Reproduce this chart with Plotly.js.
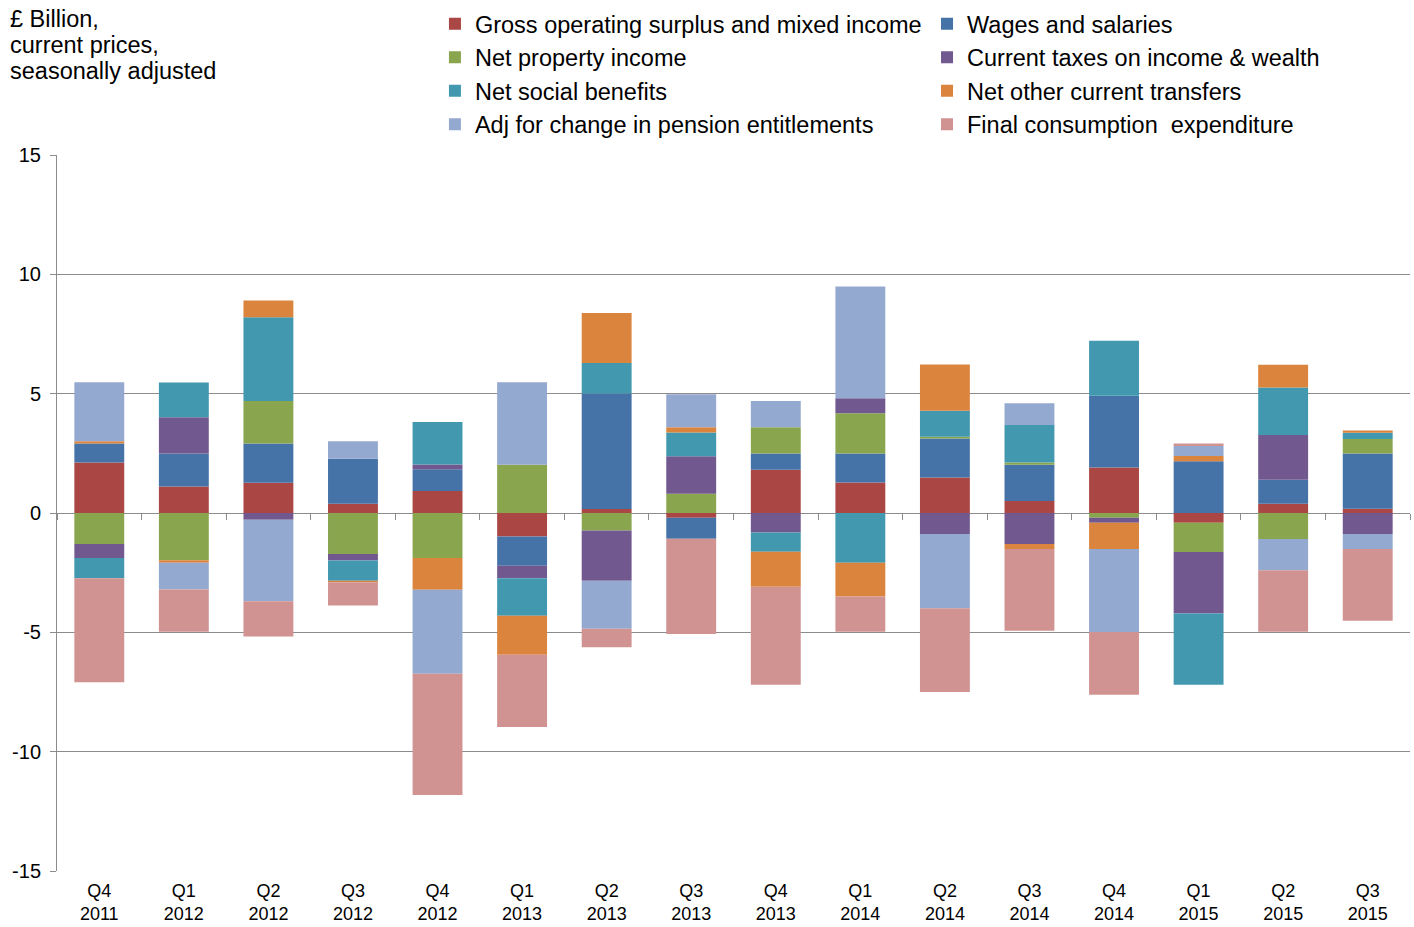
<!DOCTYPE html>
<html>
<head>
<meta charset="utf-8">
<script src="https://cdn.plot.ly/plotly-3.0.1.min.js"></script>
<style>html,body{margin:0;padding:0;background:#fff;}#chart{width:1414px;height:927px;}</style>
</head>
<body>
<div id="chart"></div>
<script>
const quarters = ["Q4<br>2011","Q1<br>2012","Q2<br>2012","Q3<br>2012","Q4<br>2012","Q1<br>2013","Q2<br>2013","Q3<br>2013","Q4<br>2013","Q1<br>2014","Q2<br>2014","Q3<br>2014","Q4<br>2014","Q1<br>2015","Q2<br>2015","Q3<br>2015"];

const grossOperatingSurplus = [2.12, 1.11, 1.27, 0.39, 0.92, -0.98, 0.17, -0.20, 1.81, 1.28, 1.49, 0.50, 1.91, -0.41, 0.39, 0.18];
const wagesSalaries        = [0.79, 1.38, 1.64, 1.88, 0.91, -1.23, 4.84, -0.88, 0.68, 1.21, 1.63, 1.52, 3.00, 2.17, 1.00, 2.31];
const netPropertyIncome    = [-1.30, -1.98, 1.78, -1.72, -1.89, 2.02, -0.73, 0.81, 1.10, 1.69, 0.07, 0.10, -0.20, -1.22, -1.09, 0.61];
const currentTaxes         = [-0.59, 1.52, -0.28, -0.27, 0.20, -0.52, -2.11, 1.57, -0.82, 0.63, -0.88, -1.30, -0.21, -2.58, 1.88, -0.88];
const netSocialBenefits    = [-0.84, 1.46, 3.51, -0.85, 1.78, -1.58, 1.27, 0.99, -0.80, -2.08, 1.09, 1.57, 2.31, -2.99, 1.99, 0.26];
const netOtherTransfers    = [0.10, -0.10, 0.70, -0.06, -1.33, -1.63, 2.10, 0.22, -1.47, -1.42, 1.94, -0.21, -1.10, 0.22, 0.95, 0.10];
const adjPension           = [2.47, -1.13, -3.42, 0.74, -3.52, 3.46, -2.01, 1.39, 1.10, 4.68, -3.11, 0.91, -3.48, 0.42, -1.31, -0.63];
const finalConsumption     = [-4.36, -1.77, -1.47, -0.98, -5.08, -3.03, -0.77, -3.99, -4.11, -1.48, -3.51, -3.42, -2.63, 0.10, -2.58, -3.00];

const seriesNames = [
  "Gross operating surplus and mixed income",
  "Wages and salaries",
  "Net property income",
  "Current taxes on income & wealth",
  "Net social benefits",
  "Net other current transfers",
  "Adj for change in pension entitlements",
  "Final consumption  expenditure"
];
const seriesValues = [grossOperatingSurplus, wagesSalaries, netPropertyIncome, currentTaxes, netSocialBenefits, netOtherTransfers, adjPension, finalConsumption];
const seriesColors = ["#AA4643", "#4572A7", "#89A54E", "#71588F", "#4198AF", "#DB843D", "#93A9CF", "#D19392"];

const yTickVals = [-15, -10, -5, 0, 5, 10, 15];
const yTickLabels = ["-15", "-10", "-5", "0", "5", "10", "15"];
const unitLines = ["£ Billion,", "current prices,", "seasonally adjusted"];

const traces = seriesNames.map((name, i) => ({
  type: "bar",
  name: name,
  x: quarters,
  y: seriesValues[i],
  marker: {color: seriesColors[i], line: {width: 0}},
  legend: (i % 2 === 0) ? "legend" : "legend2",
  legendgroup: "g" + i,
  hoverinfo: "name+y"
}));

const gridColor = "#8c8c8c";
const fam = "Liberation Sans, Arial, sans-serif";

const layout = {
  width: 1414, height: 927,
  margin: {l: 57, r: 4, t: 155, b: 56, autoexpand: false},
  paper_bgcolor: "#fff", plot_bgcolor: "#fff",
  barmode: "relative",
  bargap: 0.41,
  font: {family: fam, color: "#000"},
  xaxis: {
    type: "category",
    tickfont: {family: fam, size: 18, color: "#000"},
    showline: false, ticks: "", showgrid: false, zeroline: false,
    range: [-0.5, 15.5], automargin: false, ticklabelstandoff: 7
  },
  xaxis2: {
    overlaying: "x", anchor: "free", position: 0.5, type: "linear",
    range: [-0.5, 15.5], tick0: 0.5, dtick: 1,
    ticks: "outside", ticklen: 6, tickcolor: gridColor, tickwidth: 1,
    showticklabels: false, showgrid: false, zeroline: false, showline: false
  },
  yaxis: {
    range: [-15, 15], tickmode: "array", tickvals: yTickVals, ticktext: yTickLabels,
    showgrid: true, gridcolor: gridColor, gridwidth: 1,
    zeroline: true, zerolinecolor: gridColor, zerolinewidth: 1,
    showline: true, linecolor: gridColor, linewidth: 1,
    ticks: "outside", ticklen: 6, tickcolor: gridColor,
    tickfont: {family: fam, size: 20, color: "#000"},
    automargin: false, ticklabelstandoff: 5
  },
  legend: {
    xref: "container", yref: "container", x: 0.3076, y: 0.998, xanchor: "left", yanchor: "top",
    orientation: "v", font: {family: fam, size: 23.5, color: "#000"},
    tracegroupgap: 0, bgcolor: "rgba(0,0,0,0)", traceorder: "grouped"
  },
  legend2: {
    xref: "container", yref: "container", x: 0.6556, y: 0.998, xanchor: "left", yanchor: "top",
    orientation: "v", font: {family: fam, size: 23.5, color: "#000"},
    tracegroupgap: 0, bgcolor: "rgba(0,0,0,0)", traceorder: "grouped"
  },
  annotations: unitLines.map((t, i) => ({
    xref: "paper", yref: "paper", x: -0.0362, y: (155 - 19 - 26 * i) / 716 + 1, xanchor: "left", yanchor: "middle",
    text: t, align: "left", showarrow: false,
    font: {family: fam, size: 23.5, color: "#000"}
  }))
};

traces.push({type: "scatter", x: [0], y: [0], xaxis: "x2", yaxis: "y", mode: "markers", marker: {opacity: 0}, showlegend: false, hoverinfo: "skip"});

Plotly.newPlot("chart", traces, layout, {displayModeBar: false, staticPlot: true});
</script>
</body>
</html>
